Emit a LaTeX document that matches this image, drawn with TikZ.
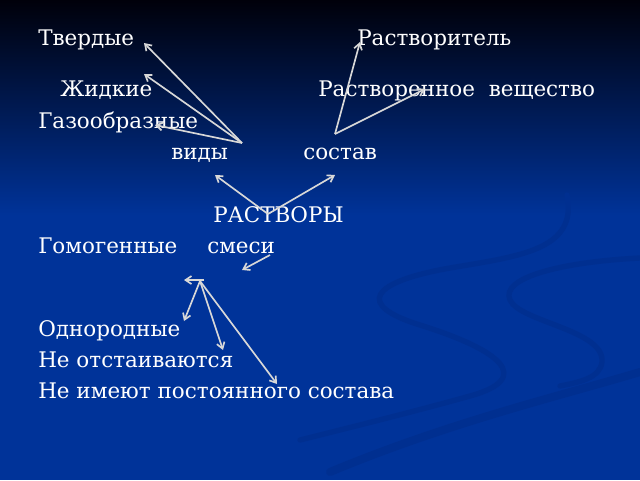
\documentclass[tikz,border=0pt]{standalone}
\usepackage{fontspec}
\setmainfont{DejaVu Serif}
\usetikzlibrary{arrows.meta}
\definecolor{bgblue}{HTML}{003399}
\definecolor{bgtop}{HTML}{00000A}
\definecolor{swirl}{HTML}{002F90}
\definecolor{arr}{HTML}{D8D8D8}
\tikzset{
  txt/.style={anchor=base west, inner sep=0pt, text=white, font=\fontsize{16.1}{19}\selectfont},
  arrowline/.style={draw=arr, line width=1.25pt, -{Straight Barb[length=4.5pt,width=6pt]}},
  swirlline/.style={draw=swirl, line cap=round}
}
\begin{document}
\begin{tikzpicture}[x=0.75pt,y=-0.75pt]
\useasboundingbox (0,0) rectangle (640,480);
% background
\fill[bgblue] (0,0) rectangle (640,480);
\fill[top color=bgtop, bottom color=bgblue] (0,0) rectangle (640,215);
% swirls
\draw[swirlline, line width=4pt] (567,195) .. controls (578,250) and (520,256) .. (450,268) .. controls (370,282) and (355,305) .. (420,325) .. controls (500,350) and (535,378) .. (470,396) .. controls (420,410) and (360,425) .. (300,440);
\draw[swirlline, line width=4pt] (640,258) .. controls (560,262) and (500,278) .. (510,300) .. controls (520,322) and (605,330) .. (602,362) .. controls (600,378) and (580,382) .. (560,386);
\draw[swirlline, line width=6pt] (640,372) .. controls (560,396) and (450,422) .. (330,472);
% texts
\node[txt] (tverd) at (38,45) {Твердые};
\node[txt] (rastvoritel) at (357,45) {Растворитель};
\node[txt] (zhid) at (60,96) {Жидкие};
\node[txt] (rastvor) at (318,96) {Растворенное\ \ вещество};
\node[txt] (gaz) at (38,128) {Газообразные};
\node[txt] (vidy) at (171,159) {виды};
\node[txt] (sostav) at (303,159) {состав};
\node[txt] (rastvory) at (213,222) {РАСТВОРЫ};
\node[txt] (gomo) at (38,253) {Гомогенные};
\node[txt] (smesi) at (207,253) {смеси};
\node[txt] (odno) at (38,336) {Однородные};
\node[txt] (neot) at (38,367) {Не отстаиваются};
\node[txt] (neim) at (38,398) {Не имеют постоянного состава};
% arrow points
\coordinate (v1) at (242,143);
\coordinate (h11) at (144,43);
\coordinate (h12) at (144,74);
\coordinate (h13) at (155,125);
\coordinate (v2) at (335,134);
\coordinate (h21) at (360,42);
\coordinate (h22) at (425,89);
\coordinate (v3) at (268,214);
\coordinate (h31) at (215,175);
\coordinate (h32) at (335,175);
\coordinate (s4) at (270,255);
\coordinate (h4) at (242,270);
\coordinate (v5) at (200,281);
\coordinate (t5) at (204,280);
\coordinate (h50) at (184,280);
\coordinate (h51) at (184,321);
\coordinate (h52) at (223,350);
\coordinate (h53) at (277,384);
% arrows
\draw[arrowline] (v1) -- (h11);
\draw[arrowline] (v1) -- (h12);
\draw[arrowline] (v1) -- (h13);
\draw[arrowline] (v2) -- (h21);
\draw[arrowline] (v2) -- (h22);
\draw[arrowline] (v3) -- (h31);
\draw[arrowline] (v3) -- (h32);
\draw[arrowline] (s4) -- (h4);
\draw[arrowline] (t5) -- (h50);
\draw[arrowline] (v5) -- (h51);
\draw[arrowline] (v5) -- (h52);
\draw[arrowline] (v5) -- (h53);
\end{tikzpicture}
\end{document}
